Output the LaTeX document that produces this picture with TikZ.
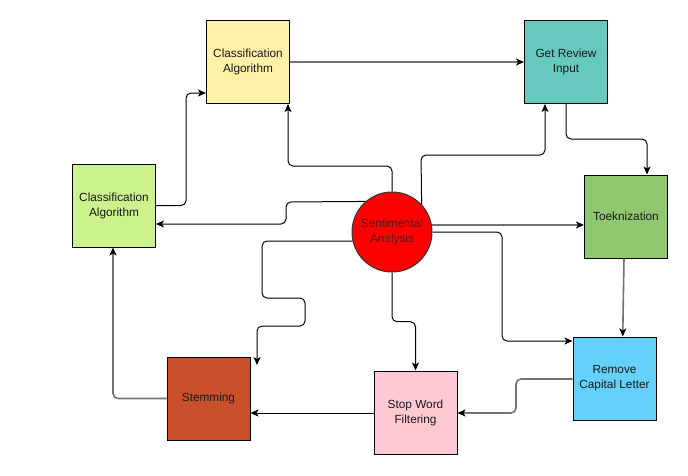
\documentclass[tikz,border=0pt]{standalone}
\usepackage{fontspec}
\setmainfont{Liberation Sans}
\usetikzlibrary{arrows.meta}
\definecolor{cyel}{HTML}{FFF1A8}
\definecolor{cteal}{HTML}{67C9BE}
\definecolor{ctok}{HTML}{8FC86E}
\definecolor{crem}{HTML}{63D1FB}
\definecolor{cpink}{HTML}{FFC9D4}
\definecolor{cstem}{HTML}{C9502B}
\definecolor{clgr}{HTML}{CCF28E}
\definecolor{csatext}{HTML}{5C1414}
\tikzset{
  boxnode/.style={draw=black, line width=1pt, minimum width=83pt, minimum height=83pt,
    inner sep=0pt, align=center, font=\fontsize{11.8}{15}\selectfont, text=black!90},
  arr/.style={draw=black, line width=1pt, rounded corners=5pt,
    -{Stealth[length=8pt,width=7pt,inset=2pt,black]}},
  garr/.style={arr, draw=black!55, line width=1.6pt},
}
\begin{document}
\begin{tikzpicture}[x=1pt,y=-1pt]
\useasboundingbox (0,0) rectangle (688,475);
\fill[white] (0,0) rectangle (688,475);
% nodes
\node[boxnode, fill=cyel] (yel) at (248,62) {Classification\\Algorithm};
\node[boxnode, fill=cteal] (teal) at (566,62) {Get Review\\Input};
\node[boxnode, fill=ctok] (tok) at (626,216.5) {Toeknization};
\node[boxnode, fill=crem] (rem) at (614.5,378.5) {Remove\\Capital Letter};
\node[boxnode, fill=cpink] (stop) at (415.5,412.5) {Stop Word\\Filtering};
\node[boxnode, fill=cstem] (stem) at (208.5,398.5) {Stemming};
\node[boxnode, fill=clgr] (lgr) at (114,205.5) {Classification\\Algorithm};
\node[circle, draw=black!80, line width=1pt, fill=red, minimum size=80pt, inner sep=0pt,
  align=center, font=\fontsize{11.8}{15}\selectfont, text=csatext] (sa) at (392,232) {Sentimental\\Analysis};
\coordinate (stemtip) at (257,365);
% connectors
\draw[garr] (yel.east) -- (teal.west);
\draw[arr] (sa.north) -- (392,166) -- (288,166) -- (yel.south -| 288,0);
\draw[arr] (sa.131.4) -- (286,202) -- (286,224) -- (lgr.east |- 0,224);
\draw[arr] (lgr.east) -- (186,205.5) -- (186,93) -- (yel.west |- 0,93);
\draw[arr] (sa.43.5) -- (421,155) -- (545,155) -- (teal.south -| 545,0);
\draw[arr] (teal.south) -- (566,139) -- (647,139) -- (tok.north -| 647,0);
\draw[garr] (sa.10) -- (sa.10 -| tok.west);
\draw[arr] (sa.east) -- (502,232) -- (502,341) -- (rem.west |- 0,341);
\draw[garr] (tok.south -| 624,0) -- (rem.north -| 622.7,0);
\draw[garr] (rem.west |- 0,379) -- (516,379) -- (516,413) -- (stop.east |- 0,413);
\draw[arr] (stop.west |- 0,413) -- (stem.east |- 0,413);
\draw[garr] (stem.west) -- (113,398.5) -- (lgr.south -| 113,0);
\draw[arr] (sa.south) -- (392,321.7) -- (415.5,321.7) -- (stop.north);
\draw[arr] (sa.193) -- (262,241) -- (262,298) -- (305,298) -- (305,326) -- (257,326) -- (stemtip);
\end{tikzpicture}
\end{document}
